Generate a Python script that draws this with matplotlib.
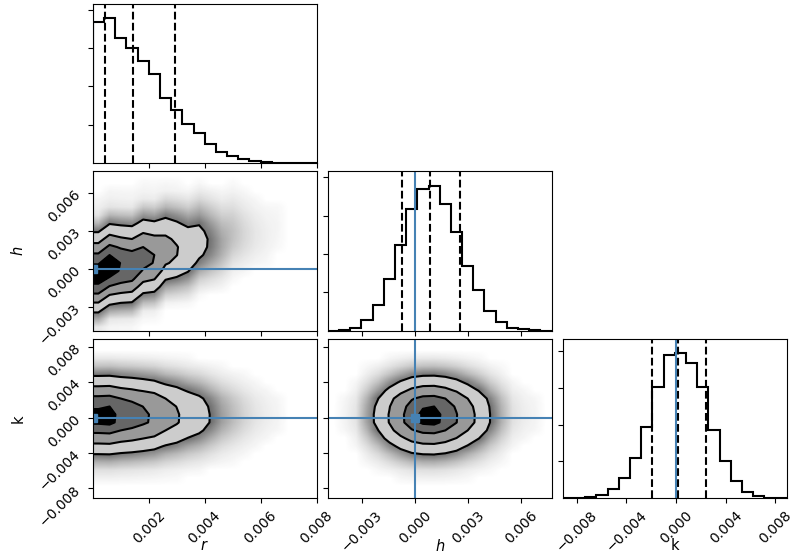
import numpy as np
import matplotlib
matplotlib.use("Agg")
import matplotlib.pyplot as plt
from matplotlib.ticker import MaxNLocator

# Axis ranges of the three parameters
r_lim = [0.0, 0.008]
h_lim = [-0.0049, 0.0077]
k_lim = [-0.0091, 0.0089]

# Histogram heights (thousands of samples), 20 bins over each range
r_hist = [3.68, 3.77, 3.26, 3.00, 2.67, 2.33, 1.71, 1.39, 1.02, 0.79,
          0.51, 0.30, 0.19, 0.11, 0.06, 0.035, 0.02, 0.01, 0.005, 0.003]
h_hist = [0.005, 0.02, 0.06, 0.29, 0.67, 1.35, 2.24, 3.17, 3.70, 3.78,
          3.30, 2.57, 1.70, 1.06, 0.52, 0.23, 0.07, 0.035, 0.02, 0.005]
k_hist = [0.0, 0.01, 0.03, 0.08, 0.25, 0.55, 1.10, 1.95, 3.02, 3.91,
          3.95, 3.67, 3.02, 1.85, 1.02, 0.47, 0.18, 0.05, 0.01, 0.005]

# 16 / 50 / 84 % quantiles (dashed lines)
r_quant = [0.00043, 0.00142, 0.00294]
h_quant = [-0.0007, 0.00088, 0.00256]
k_quant = [-0.0019, 0.0002, 0.0024]

# True values (blue lines)
truths = [0.0, 0.0, 0.0]

# h drifts upwards with r: shift of the h histogram (in bins) for each r bin
h_shift_per_r = [-2, -1, -1, -1, 0, 0, 1, 1, 1, 2, 2, 2, 3, 3, 3, 3, 4, 4, 4, 4]

r_ticks = [0.002, 0.004, 0.006, 0.008]
h_ticks = [-0.003, 0.0, 0.003, 0.006]
k_ticks = [-0.008, -0.004, 0.0, 0.004, 0.008]

labels = ["$r$", "$h$", "k"]
lims = [r_lim, h_lim, k_lim]
hists = [r_hist, h_hist, k_hist]
quants = [r_quant, h_quant, k_quant]
ticks = [r_ticks, h_ticks, k_ticks]

truth_color = "#4682b4"
sigmas = np.array([0.5, 1.0, 1.5, 2.0])
mass_levels = 1.0 - np.exp(-0.5 * sigmas ** 2)


def shifted(values, n):
    values = np.asarray(values, dtype=float)
    out = np.zeros_like(values)
    if n >= 0:
        out[n:] = values[:len(values) - n]
    else:
        out[:n] = values[-n:]
    return out


def centers(lim, n):
    e = np.linspace(lim[0], lim[1], n + 1)
    return 0.5 * (e[1:] + e[:-1])


def panel_2d(ax, xlim, ylim, dens):
    ny, nx = dens.shape
    # density levels enclosing 11.8, 39.3, 67.5 and 86.5 % of the samples
    flat = np.sort(dens.ravel())[::-1]
    cum = np.cumsum(flat) / flat.sum()
    V = np.sort([flat[cum <= m][-1] for m in mass_levels])

    # sample cloud outside the contours
    rel = np.clip(dens / V[0], 0, 1)
    rgba = np.zeros((ny, nx, 4))
    rgba[..., :3] = 0.15
    rgba[..., 3] = np.where(rel > 0.02, 0.7 * rel ** 0.8, 0.0)
    ax.imshow(rgba, extent=[xlim[0], xlim[1], ylim[0], ylim[1]],
              origin="lower", aspect="auto", interpolation="bilinear")

    X = np.concatenate([[xlim[0]], centers(xlim, nx), [xlim[1]]])
    Y = np.concatenate([[ylim[0]], centers(ylim, ny), [ylim[1]]])
    Z = np.pad(dens, 1, mode="edge")
    ax.contourf(X, Y, Z, list(V) + [Z.max() * 1.001],
                colors=["#cccccc", "#999999", "#666666", "#000000"])
    ax.contour(X, Y, Z, V, colors="k", linewidths=1.5)


plt.close("all")
fig, axes = plt.subplots(3, 3, figsize=(7.93, 5.56), dpi=100)
fig.subplots_adjust(left=0.117, right=0.992, bottom=0.104, top=0.993,
                    wspace=0.05, hspace=0.05)

# 2D densities (rows = y parameter, columns = x parameter)
rh = np.array([shifted(h_hist, s) * r_hist[i]
               for i, s in enumerate(h_shift_per_r)]).T
rk = np.outer(k_hist, r_hist)
hk = np.outer(k_hist, h_hist)
dens2d = {(1, 0): rh, (2, 0): rk, (2, 1): hk}

for i in range(3):
    for j in range(3):
        ax = axes[i, j]
        if j > i:
            ax.set_axis_off()
            continue

        if i == j:
            edges = np.linspace(lims[i][0], lims[i][1], len(hists[i]) + 1)
            ax.hist(centers(lims[i], len(hists[i])), bins=edges,
                    weights=hists[i], histtype="step", color="k", lw=1.5)
            for q in quants[i]:
                ax.axvline(q, ls="dashed", color="k", lw=1.5)
            ax.axvline(truths[i], color=truth_color, lw=1.5)
            ax.set_ylim(0, 1.1 * max(hists[i]))
            ax.yaxis.set_major_locator(MaxNLocator(5, prune="lower"))
            ax.set_yticklabels([])
        else:
            panel_2d(ax, lims[j], lims[i], dens2d[(i, j)])
            ax.axvline(truths[j], color=truth_color, lw=1.5)
            ax.axhline(truths[i], color=truth_color, lw=1.5)
            ax.plot(truths[j], truths[i], "s", color=truth_color, ms=6)
            ax.set_ylim(lims[i])
            ax.set_yticks(ticks[i])
            if j == 0:
                for lab in ax.get_yticklabels():
                    lab.set_rotation(45)
                ax.set_ylabel(labels[i], fontsize=10.5)
                ax.yaxis.set_label_coords(-0.3, 0.5)
            else:
                ax.set_yticklabels([])

        ax.set_xlim(lims[j])
        ax.set_xticks(ticks[j])
        ax.tick_params(labelsize=10)
        if i == 2:
            for lab in ax.get_xticklabels():
                lab.set_rotation(45)
            ax.set_xlabel(labels[j], fontsize=10.5)
            ax.xaxis.set_label_coords(0.5, -0.25)
        else:
            ax.set_xticklabels([])

plt.savefig("out.png", dpi=100)
